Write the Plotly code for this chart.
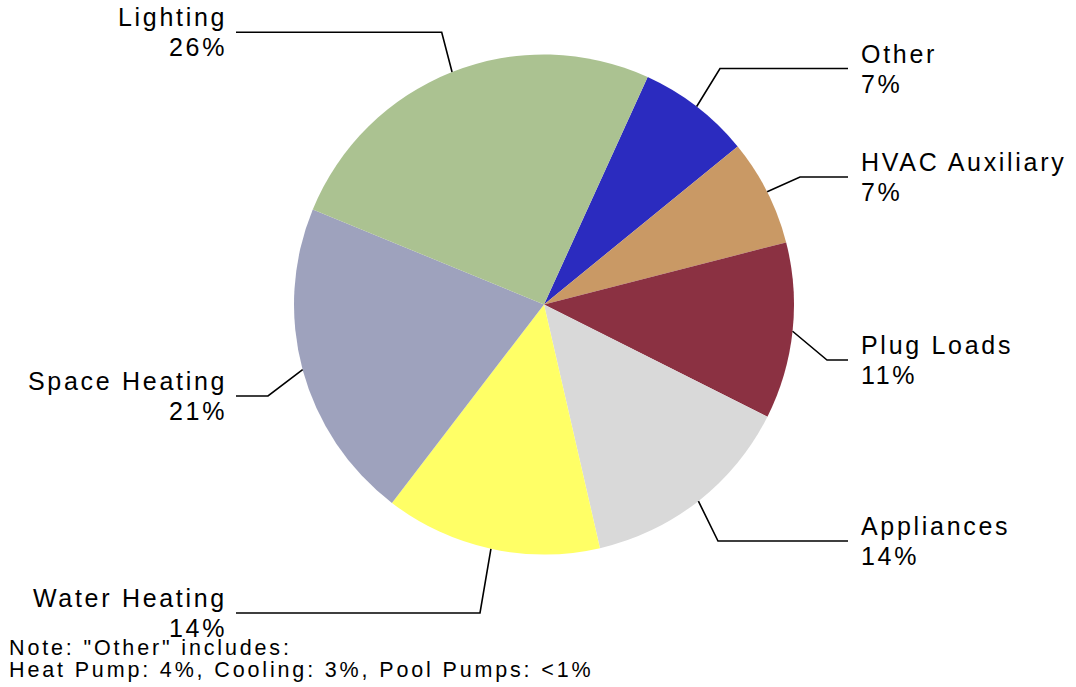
import math
import plotly.graph_objects as go

# ---------------- data ----------------
categories = ["Other", "HVAC Auxiliary", "Plug Loads", "Appliances",
              "Water Heating", "Space Heating", "Lighting"]
shares = [7.3, 6.9, 11.4, 14.0, 14.0, 20.8, 25.6]
slice_colors = ["#2B2BBF", "#C99965", "#8B3142", "#D9D9D9",
                "#FFFF66", "#9EA2BD", "#ABC291"]
note_lines = ['Note: "Other" includes:',
              'Heat Pump: 4%, Cooling: 3%, Pool Pumps: <1%']

# ---------------- layout constants ----------------
W, H = 1076, 687
CX, CY, R = 544.0, 304.5, 250.0      # pie centre / radius in px
ROTATION = 24.5                       # start angle of first slice (clockwise from 12 o'clock)
FONT = "Liberation Sans, Arial, sans-serif"
LS = "letter-spacing:2.7px"
# elbow point of each leader line (px) and label side
elbows = {
    "Other": (720, 68.5, "right"),
    "HVAC Auxiliary": (800, 177, "right"),
    "Plug Loads": (827, 360, "right"),
    "Appliances": (718, 541, "right"),
    "Water Heating": (480, 613, "left"),
    "Space Heating": (268, 396, "left"),
    "Lighting": (441.7, 32.3, "left"),
}
RIGHT_END, LEFT_END = 848, 236
RIGHT_TEXT, LEFT_TEXT = 859, 229


def px(x):
    return x / W


def py(y):
    return 1 - y / H


fig = go.Figure()
fig.add_trace(go.Pie(
    labels=categories, values=shares, sort=False, direction="clockwise",
    rotation=ROTATION, textinfo="none", hoverinfo="label+percent",
    marker=dict(colors=slice_colors, line=dict(width=0)),
    domain=dict(x=[px(CX - R), px(CX + R)], y=[py(CY + R), py(CY - R)]),
    showlegend=False,
))

total = sum(shares)
shapes, annotations = [], []
cum = 0.0
for cat, v in zip(categories, shares):
    mid = math.radians(ROTATION + (cum + v / 2) / total * 360)
    cum += v
    ex, ey = CX + R * math.sin(mid), CY - R * math.cos(mid)
    bx, by, side = elbows[cat]
    endx = RIGHT_END if side == "right" else LEFT_END
    shapes.append(dict(
        type="path", xref="paper", yref="paper",
        path=f"M {px(ex)},{py(ey)} L {px(bx)},{py(by)} L {px(endx)},{py(by)}",
        line=dict(color="black", width=1.6)))
    pct = f"{round(v / total * 100)}%"
    tx = RIGHT_TEXT if side == "right" else LEFT_TEXT
    xa = "left" if side == "right" else "right"
    for txt, dy in ((cat, -15), (pct, 15)):
        annotations.append(dict(
            x=px(tx), y=py(by + dy), xref="paper", yref="paper",
            text=f'<span style="{LS}">{txt}</span>', showarrow=False,
            xanchor=xa, yanchor="middle", align=xa,
            font=dict(family=FONT, size=25, color="black")))

for i, line in enumerate(note_lines):
    annotations.append(dict(
        x=px(7), y=py(648 + i * 21.5), xref="paper", yref="paper",
        text=f'<span style="letter-spacing:2.85px">{line}</span>', showarrow=False,
        xanchor="left", yanchor="middle", align="left",
        font=dict(family=FONT, size=21.5, color="black")))

fig.update_layout(
    width=W, height=H, margin=dict(l=0, r=0, t=0, b=0),
    paper_bgcolor="white", plot_bgcolor="white",
    shapes=shapes, annotations=annotations,
)

fig.write_html("out.html", config={"displayModeBar": False},
               post_script="document.body.style.margin='0';document.body.style.overflow='hidden';")
